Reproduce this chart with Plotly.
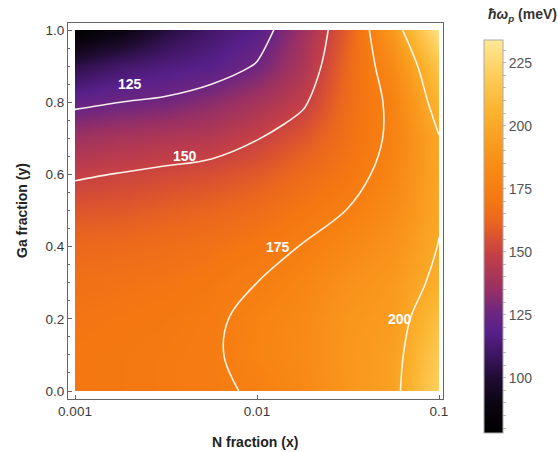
import plotly.graph_objects as go

# ---- data ----
n_fraction = [0.001, 0.00178, 0.00316, 0.00562, 0.01, 0.0178, 0.0316, 0.0562, 0.1]
ga_fraction = [0.0, 0.1, 0.2, 0.3, 0.4, 0.5, 0.6, 0.7, 0.8, 0.9, 1.0]
# plasmon energy (meV), one row per Ga fraction, columns follow n_fraction
energy = [
    [170, 171, 172, 173.5, 176, 182, 190, 196, 222],
    [170, 171, 172, 173.5, 179, 183, 190.5, 195, 218],
    [169, 170, 171, 173, 178.3, 182.5, 190, 193, 212],
    [167, 168, 169, 171, 175, 180, 187, 191.5, 203.5],
    [163, 164, 165.5, 167.5, 170.5, 175.5, 181.5, 188, 200.5],
    [157, 158, 160, 162, 165, 170, 175.3, 184, 198.5],
    [148.5, 150.5, 152.5, 154.5, 158, 164, 170, 180, 198.5],
    [137, 140, 142, 144, 149.5, 157, 167, 177.5, 199.3],
    [122, 125, 127, 132, 139, 148, 165, 178, 207],
    [104, 111, 115, 118, 126, 141, 163, 183, 215],
    [80, 89, 102, 111, 118, 137, 160, 192, 232],
]
x_tick_vals = [0.001, 0.01, 0.1]
x_tick_text = ["0.001", "0.01", "0.1"]
cbar_tick_vals = list(range(80, 235, 5))
cbar_tick_text = [str(v) if v % 25 == 0 else "" for v in cbar_tick_vals]
contour_start, contour_end, contour_step = 125, 200, 25
# label positions next to each contour line (log10 N fraction, Ga fraction)
label_levels = [125, 150, 175, 200]
label_pos = [(-2.698, 0.850), (-2.396, 0.651), (-1.885, 0.399), (-1.214, 0.199)]

zmin, zmax = 78, 234
stops = [
    (78, "rgb(0,0,0)"),
    (90, "rgb(12,5,18)"),
    (100, "rgb(32,12,52)"),
    (108, "rgb(58,20,92)"),
    (118, "rgb(88,32,138)"),
    (126, "rgb(110,38,128)"),
    (135, "rgb(152,48,100)"),
    (148, "rgb(194,62,72)"),
    (155, "rgb(216,80,50)"),
    (162, "rgb(234,102,30)"),
    (170, "rgb(244,119,18)"),
    (178, "rgb(247,130,18)"),
    (190, "rgb(249,150,28)"),
    (205, "rgb(251,178,45)"),
    (220, "rgb(253,205,90)"),
    (234, "rgb(255,232,150)"),
]
colorscale = [[(v - zmin) / (zmax - zmin), c] for v, c in stops]

FONT = "Liberation Sans, Arial, sans-serif"

fig = go.Figure()
# smooth colour map with the white contour lines
fig.add_trace(go.Contour(
    x=n_fraction, y=ga_fraction, z=energy,
    colorscale=colorscale, zmin=zmin, zmax=zmax, showscale=False,
    contours=dict(coloring="heatmap", showlabels=False,
                  start=contour_start, end=contour_end, size=contour_step),
    line=dict(color="rgba(255,250,242,0.95)", width=1.6),
    hoverinfo="skip",
))
# colour legend (plain gradient bar, without contour marks)
fig.add_trace(go.Scatter(
    x=[None], y=[None], mode="markers", showlegend=False, hoverinfo="skip",
    marker=dict(
        color=[zmin], colorscale=colorscale, cmin=zmin, cmax=zmax, showscale=True,
        colorbar=dict(
            x=(484 - 68) / 375, xanchor="left", xpad=0,
            y=0.432, yanchor="middle", ypad=0,
            len=393, lenmode="pixels", thickness=19, thicknessmode="pixels",
            outlinewidth=1, outlinecolor="#aaaaaa",
            tickmode="array", tickvals=cbar_tick_vals, ticktext=cbar_tick_text,
            ticks="outside", ticklen=3, tickcolor="#bbbbbb",
            tickfont=dict(family=FONT, size=14, color="#555555"),
        ),
    ),
))

axis_common = dict(
    showline=True, linecolor="#666666", linewidth=1, mirror=True,
    showgrid=False, zeroline=False, ticks="inside", ticklen=4,
    tickcolor="#666666", tickfont=dict(family=FONT, size=13.5, color="#3a3a3a"),
)
fig.update_xaxes(type="log", range=[-3 - 7 / 182, -1 + 4 / 182],
                 tickmode="array", tickvals=x_tick_vals, ticktext=x_tick_text,
                 **axis_common)
fig.update_yaxes(range=[-8 / 361, 1 + 7 / 361], tick0=0, dtick=0.2, tickformat=".1f",
                 minor=dict(dtick=0.05, ticks="inside", ticklen=2, tickcolor="#666666"),
                 **axis_common)

annotations = [
    dict(text=str(lv), x=px, y=py, xref="x", yref="y", showarrow=False,
         xanchor="center", yanchor="middle",
         font=dict(size=14, color="white", family=FONT, weight="bold"))
    for lv, (px, py) in zip(label_levels, label_pos)
]
annotations += [
    dict(text="<b>N fraction (x)</b>", xref="paper", yref="paper",
         x=(255 - 68) / 375, y=(399 - 442) / 376, xanchor="center", yanchor="middle",
         showarrow=False, font=dict(size=14, color="#222222", family=FONT)),
    dict(text="<b>Ga fraction (y)</b>", xref="paper", yref="paper",
         x=(22 - 68) / 375, y=0.5, xanchor="center", yanchor="middle", textangle=-90,
         showarrow=False, font=dict(size=14, color="#222222", family=FONT)),
    dict(text="<b><i>ħω</i><sub><i>p</i></sub> (meV)</b>", xref="paper", yref="paper",
         x=(486 - 68) / 375, y=(399 - 15) / 376, xanchor="left", yanchor="middle",
         showarrow=False, font=dict(size=14, color="#333333", family=FONT)),
]

fig.update_layout(
    width=558, height=452,
    margin=dict(l=68, r=115, t=23, b=53, autoexpand=False),
    paper_bgcolor="white", plot_bgcolor="white",
    font=dict(family=FONT),
    annotations=annotations,
)

# remove the default 8px page margin so the figure fills the window exactly
fig.write_html("out.html", config={"displayModeBar": False},
               post_script="document.body.style.margin='0px';document.body.style.overflow='hidden';")
